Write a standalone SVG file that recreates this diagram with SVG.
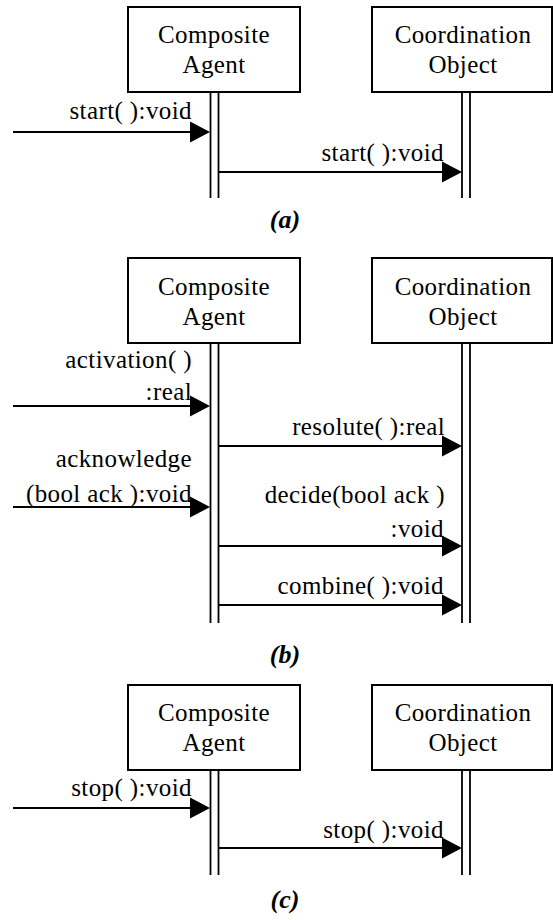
<svg xmlns="http://www.w3.org/2000/svg" width="553" height="920" viewBox="0 0 553 920">
  <defs>
    <style>
      .box { fill: #ffffff; stroke: #000000; stroke-width: 2; }
      .life { stroke: #000000; stroke-width: 1.8; fill: none; }
      .msg { stroke: #000000; stroke-width: 1.8; fill: none; }
      .head { fill: #000000; stroke: none; }
      text { font-family: "Liberation Serif", "Times New Roman", Times, "Nimbus Roman", "Nimbus Roman No9 L", Tinos, "Noto Serif", FreeSerif, "DejaVu Serif", Georgia, serif; fill: #000000; }
      .name { font-size: 25px; letter-spacing: 0.4px; text-anchor: middle; }
      .lbl { font-size: 25px; letter-spacing: 0.4px; text-anchor: end; }
      .cap { font-size: 26px; font-weight: bold; font-style: italic; text-anchor: middle; }
    </style>
    <!-- filled arrowhead, tip at origin, pointing right -->
    <path id="tip" class="head" d="M0,0 L-20,-10.5 L-20,10.5 Z"/>
  </defs>

  <!-- ===== (a) start ===== -->
  <g id="a-composite-agent">
    <rect class="box" x="128" y="7" width="172" height="85"/>
    <text class="name" x="214" y="43">Composite</text>
    <text class="name" x="214" y="73">Agent</text>
    <line class="life" x1="210.5" y1="92" x2="210.5" y2="198"/>
    <line class="life" x1="218.5" y1="92" x2="218.5" y2="198"/>
  </g>
  <g id="a-coordination-object">
    <rect class="box" x="372" y="7" width="180" height="85"/>
    <text class="name" x="463" y="43">Coordination</text>
    <text class="name" x="463" y="73">Object</text>
    <line class="life" x1="462" y1="92" x2="462" y2="198"/>
    <line class="life" x1="470" y1="92" x2="470" y2="198"/>
  </g>
  <g id="a-connectors">
    <line class="msg" x1="13" y1="132" x2="200" y2="132"/>
    <use href="#tip" x="210" y="132"/>
    <text class="lbl" x="192" y="119">start( ):void</text>
    <line class="msg" x1="218.5" y1="172" x2="452" y2="172"/>
    <use href="#tip" x="462" y="172"/>
    <text class="lbl" x="444" y="161">start( ):void</text>
  </g>
  <text class="cap" x="285" y="228">(a)</text>

  <!-- ===== (b) activation cycle ===== -->
  <g id="b-composite-agent">
    <rect class="box" x="128" y="258" width="172" height="85"/>
    <text class="name" x="214" y="295">Composite</text>
    <text class="name" x="214" y="325">Agent</text>
    <line class="life" x1="210.5" y1="343" x2="210.5" y2="623"/>
    <line class="life" x1="218.5" y1="343" x2="218.5" y2="623"/>
  </g>
  <g id="b-coordination-object">
    <rect class="box" x="372" y="258" width="180" height="85"/>
    <text class="name" x="463" y="295">Coordination</text>
    <text class="name" x="463" y="325">Object</text>
    <line class="life" x1="462" y1="343" x2="462" y2="623"/>
    <line class="life" x1="470" y1="343" x2="470" y2="623"/>
  </g>
  <g id="b-connectors">
    <line class="msg" x1="13" y1="406" x2="200" y2="406"/>
    <use href="#tip" x="210" y="406"/>
    <text class="lbl" x="192" y="368">activation( )</text>
    <text class="lbl" x="192" y="400">:real</text>

    <line class="msg" x1="218.5" y1="446" x2="452" y2="446"/>
    <use href="#tip" x="462" y="446"/>
    <text class="lbl" x="445" y="435">resolute( ):real</text>

    <line class="msg" x1="13" y1="507" x2="200" y2="507"/>
    <use href="#tip" x="210" y="507"/>
    <text class="lbl" x="192" y="467">acknowledge</text>
    <text class="lbl" x="192" y="502">(bool ack ):void</text>

    <line class="msg" x1="218.5" y1="546" x2="452" y2="546"/>
    <use href="#tip" x="462" y="546"/>
    <text class="lbl" x="445" y="503">decide(bool ack )</text>
    <text class="lbl" x="444" y="537">:void</text>

    <line class="msg" x1="218.5" y1="605" x2="452" y2="605"/>
    <use href="#tip" x="462" y="605"/>
    <text class="lbl" x="444" y="594">combine( ):void</text>
  </g>
  <text class="cap" x="285" y="663">(b)</text>

  <!-- ===== (c) stop ===== -->
  <g id="c-composite-agent">
    <rect class="box" x="128" y="685" width="172" height="85"/>
    <text class="name" x="214" y="721">Composite</text>
    <text class="name" x="214" y="751">Agent</text>
    <line class="life" x1="210.5" y1="770" x2="210.5" y2="875"/>
    <line class="life" x1="218.5" y1="770" x2="218.5" y2="875"/>
  </g>
  <g id="c-coordination-object">
    <rect class="box" x="372" y="685" width="180" height="85"/>
    <text class="name" x="463" y="721">Coordination</text>
    <text class="name" x="463" y="751">Object</text>
    <line class="life" x1="462" y1="770" x2="462" y2="875"/>
    <line class="life" x1="470" y1="770" x2="470" y2="875"/>
  </g>
  <g id="c-connectors">
    <line class="msg" x1="13" y1="808" x2="200" y2="808"/>
    <use href="#tip" x="210" y="808"/>
    <text class="lbl" x="192" y="796">stop( ):void</text>
    <line class="msg" x1="218.5" y1="848" x2="452" y2="848"/>
    <use href="#tip" x="462" y="848"/>
    <text class="lbl" x="444" y="838">stop( ):void</text>
  </g>
  <text class="cap" x="285" y="908">(c)</text>
</svg>
